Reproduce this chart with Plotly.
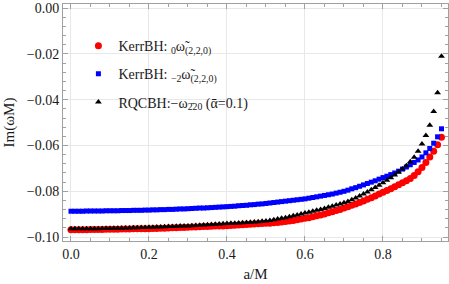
import plotly.graph_objects as go

# spin parameter a/M, 0.00 .. 0.95 step 0.01
a_vals = [round(i / 100, 2) for i in range(96)]

kerr_0 = [
    -0.0968, -0.0968, -0.0968, -0.0968, -0.0968, -0.0967, -0.0967, -0.0967, -0.0967, -0.0966,
    -0.0966, -0.0966, -0.0966, -0.0965, -0.0965, -0.0965, -0.0964, -0.0964, -0.0963, -0.0963,
    -0.0963, -0.0962, -0.0962, -0.0961, -0.0961, -0.0960, -0.0959, -0.0959, -0.0958, -0.0958,
    -0.0957, -0.0956, -0.0956, -0.0955, -0.0954, -0.0954, -0.0953, -0.0952, -0.0951, -0.0951,
    -0.0950, -0.0949, -0.0948, -0.0947, -0.0946, -0.0945, -0.0944, -0.0943, -0.0942, -0.0941,
    -0.0940, -0.0939, -0.0937, -0.0936, -0.0934, -0.0932, -0.0930, -0.0927, -0.0924, -0.0921,
    -0.0918, -0.0915, -0.0911, -0.0907, -0.0903, -0.0899, -0.0894, -0.0889, -0.0884, -0.0879,
    -0.0873, -0.0867, -0.0861, -0.0855, -0.0849, -0.0842, -0.0835, -0.0828, -0.0820, -0.0812,
    -0.0804, -0.0797, -0.0789, -0.0780, -0.0771, -0.0763, -0.0754, -0.0744, -0.0731, -0.0715,
    -0.0696, -0.0674, -0.0650, -0.0625, -0.0597, -0.0564,
]

kerr_m2 = [
    -0.0887, -0.0887, -0.0887, -0.0887, -0.0886, -0.0886, -0.0886, -0.0886, -0.0886, -0.0885,
    -0.0885, -0.0885, -0.0885, -0.0884, -0.0884, -0.0884, -0.0883, -0.0883, -0.0883, -0.0882,
    -0.0882, -0.0881, -0.0881, -0.0880, -0.0880, -0.0879, -0.0879, -0.0878, -0.0877, -0.0877,
    -0.0876, -0.0875, -0.0874, -0.0873, -0.0873, -0.0872, -0.0871, -0.0870, -0.0869, -0.0868,
    -0.0867, -0.0866, -0.0865, -0.0863, -0.0862, -0.0861, -0.0859, -0.0858, -0.0856, -0.0855,
    -0.0853, -0.0851, -0.0849, -0.0847, -0.0845, -0.0843, -0.0841, -0.0839, -0.0837, -0.0835,
    -0.0833, -0.0830, -0.0827, -0.0824, -0.0821, -0.0818, -0.0815, -0.0812, -0.0808, -0.0804,
    -0.0800, -0.0795, -0.0789, -0.0784, -0.0778, -0.0772, -0.0766, -0.0760, -0.0754, -0.0747,
    -0.0740, -0.0734, -0.0727, -0.0720, -0.0712, -0.0703, -0.0694, -0.0684, -0.0674, -0.0663,
    -0.0650, -0.0632, -0.0613, -0.0590, -0.0562, -0.0527,
]

rqcbh = [
    -0.0964, -0.0964, -0.0964, -0.0964, -0.0963, -0.0963, -0.0963, -0.0963, -0.0962, -0.0962,
    -0.0962, -0.0961, -0.0961, -0.0961, -0.0960, -0.0960, -0.0959, -0.0959, -0.0958, -0.0958,
    -0.0957, -0.0957, -0.0956, -0.0956, -0.0955, -0.0954, -0.0954, -0.0953, -0.0952, -0.0951,
    -0.0951, -0.0950, -0.0949, -0.0948, -0.0947, -0.0946, -0.0945, -0.0944, -0.0943, -0.0942,
    -0.0941, -0.0940, -0.0939, -0.0938, -0.0937, -0.0936, -0.0935, -0.0934, -0.0933, -0.0931,
    -0.0930, -0.0927, -0.0924, -0.0921, -0.0918, -0.0915, -0.0911, -0.0907, -0.0903, -0.0899,
    -0.0895, -0.0891, -0.0887, -0.0883, -0.0879, -0.0875, -0.0870, -0.0865, -0.0860, -0.0855,
    -0.0850, -0.0844, -0.0837, -0.0829, -0.0821, -0.0812, -0.0803, -0.0793, -0.0783, -0.0773,
    -0.0763, -0.0752, -0.0741, -0.0729, -0.0716, -0.0703, -0.0688, -0.0671, -0.0651, -0.0625,
    -0.0593, -0.0556, -0.0512, -0.0452, -0.0370, -0.0210,
]

x_ticks = [0.0, 0.2, 0.4, 0.6, 0.8]
y_ticks = [0.00, -0.02, -0.04, -0.06, -0.08, -0.10]

names = [
    "KerrBH: <sub>0</sub>ω̃<sub>(2,2,0)</sub>",
    "KerrBH: <sub>−2</sub>ω̃<sub>(2,2,0)</sub>",
    "RQCBH:−ω<sub>2̄20</sub> (ᾱ=0.1)",
]

FONT = "Liberation Serif"
TXT = "#1a1a1a"

fig = go.Figure()
fig.add_trace(go.Scatter(x=a_vals, y=kerr_0, mode="markers", name=names[0], legendgroup="g1",
                         marker=dict(symbol="circle", size=7, color="#ff0000")))
fig.add_trace(go.Scatter(x=a_vals, y=kerr_m2, mode="markers", name=names[1], legendgroup="g2",
                         marker=dict(symbol="square", size=5, color="#0000ff")))
fig.add_trace(go.Scatter(x=a_vals, y=rqcbh, mode="markers", name=names[2], legendgroup="g3",
                         marker=dict(symbol="triangle-up", size=6, color="#000000")))

axis_common = dict(
    showline=True, linecolor="#a0a0a0", linewidth=1, mirror="ticks",
    ticks="inside", ticklen=5, tickcolor="#a0a0a0", tickwidth=1,
    showgrid=True, gridcolor="#e8e8e8", gridwidth=1, zeroline=False,
    tickfont=dict(family=FONT, size=14, color=TXT),
    automargin=False,
)

fig.update_xaxes(
    range=[-0.0205, 0.9667], tickvals=x_ticks, tickformat=".1f",
    minor=dict(dtick=0.05, tick0=0, ticks="inside", ticklen=3, tickcolor="#a0a0a0", showgrid=False),
    title=dict(text="a/M", font=dict(family=FONT, size=15, color=TXT), standoff=7),
    **axis_common,
)
fig.update_yaxes(
    range=[-0.1017, 0.0018], tickvals=y_ticks, tickformat=".2f",
    minor=dict(dtick=0.004, tick0=0, ticks="inside", ticklen=3, tickcolor="#a0a0a0", showgrid=False),
    title=dict(text="Im(ωM)", font=dict(family=FONT, size=15, color=TXT), standoff=8),
    **axis_common,
)

fig.update_layout(
    width=449, height=284,
    margin=dict(l=63, r=1, t=4, b=43, autoexpand=False),
    paper_bgcolor="white", plot_bgcolor="white",
    font=dict(family=FONT, size=14, color=TXT),
    showlegend=True,
    legend=dict(x=0.04, y=0.89, xanchor="left", yanchor="top",
                bgcolor="rgba(0,0,0,0)", borderwidth=0, tracegroupgap=7,
                font=dict(family=FONT, size=14, color=TXT)),
)

fig.write_html("out.html", config={"displayModeBar": False},
               post_script="document.body.style.margin='0';document.body.style.overflow='hidden';")
